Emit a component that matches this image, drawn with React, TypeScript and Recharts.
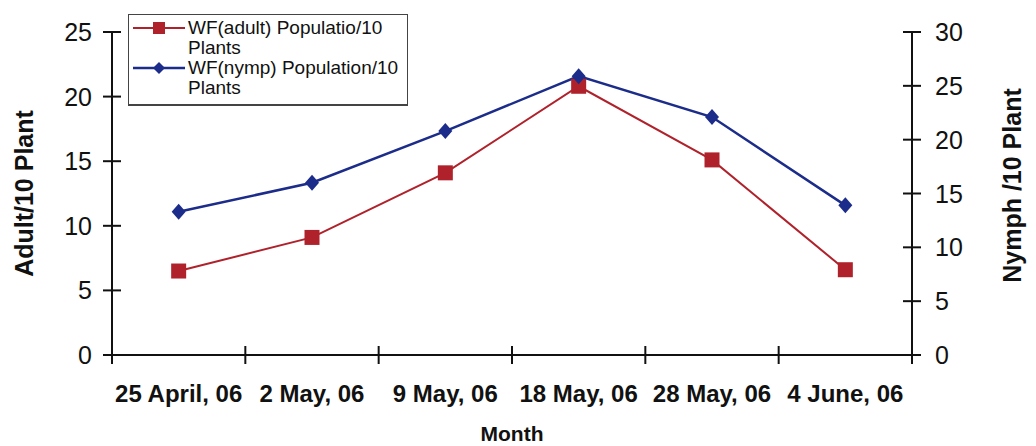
import React from 'react';
import { LineChart, Line, XAxis, YAxis, Legend, Label } from 'recharts';

const months = ['25 April, 06', '2 May, 06', '9 May, 06', '18 May, 06', '28 May, 06', '4 June, 06'];
const adult = [6.5, 9.1, 14.1, 20.8, 15.1, 6.6];
const nymph = [13.3, 16.0, 20.8, 25.9, 22.1, 13.9];
const leftTicks = [0, 5, 10, 15, 20, 25];
const rightTicks = [0, 5, 10, 15, 20, 25, 30];
const adultName = 'WF(adult) Populatio/10 Plants';
const nymphName = 'WF(nymp) Population/10 Plants';
const leftTitle = 'Adult/10 Plant';
const rightTitle = 'Nymph /10 Plant';
const xTitle = 'Month';

const data = months.map((m, i) => ({ month: m, adult: adult[i], nymph: nymph[i] }));

const W = 1036;
const H = 446;
const LEFT_W = 112;
const RIGHT_W = 124;
const TOP = 32;
const BOTTOM_H = 91;
const PLOT_W = W - LEFT_W - RIGHT_W;
const FONT = '"Liberation Sans", Arial, sans-serif';
const RED = '#B0222B';
const BLUE = '#1B2C8A';
const INK = '#111';
const TICK = 9;

const XTick = (props: any) => {
  const { x, y, payload, index, visibleTicksCount } = props;
  const count = visibleTicksCount || months.length;
  const bw = PLOT_W / count;
  return (
    <g>
      <line x1={x - bw / 2} x2={x - bw / 2} y1={y - TICK} y2={y + TICK} stroke={INK} strokeWidth={2} />
      {index === count - 1 && (
        <line x1={x + bw / 2} x2={x + bw / 2} y1={y - TICK} y2={y + TICK} stroke={INK} strokeWidth={2} />
      )}
      <text x={x} y={y + 47} textAnchor="middle" fontFamily={FONT} fontSize={24} fontWeight="bold" fill={INK}>
        {payload.value}
      </text>
    </g>
  );
};

const LeftTick = (props: any) => {
  const { x, y, payload } = props;
  return (
    <g>
      <line x1={x - TICK} x2={x + TICK} y1={y} y2={y} stroke={INK} strokeWidth={2} />
      <text x={x - 20} y={y} dy="0.36em" textAnchor="end" fontFamily={FONT} fontSize={25} fill={INK}>
        {payload.value}
      </text>
    </g>
  );
};

const RightTick = (props: any) => {
  const { x, y, payload } = props;
  return (
    <g>
      <line x1={x - TICK} x2={x + TICK} y1={y} y2={y} stroke={INK} strokeWidth={2} />
      <text x={x + 23} y={y} dy="0.36em" textAnchor="start" fontFamily={FONT} fontSize={25} fill={INK}>
        {payload.value}
      </text>
    </g>
  );
};

const LeftTitle = (props: any) => {
  const vb = props.viewBox;
  const cx = vb.x + 24;
  const cy = vb.y + vb.height / 2;
  return (
    <text x={cx} y={cy} dy="0.36em" textAnchor="middle" transform={`rotate(-90, ${cx}, ${cy})`} fontFamily={FONT} fontSize={25} fontWeight="bold" fill={INK}>
      {leftTitle}
    </text>
  );
};

const RightTitle = (props: any) => {
  const vb = props.viewBox;
  const cx = vb.x + vb.width - 24;
  const cy = vb.y + vb.height / 2 - 8;
  return (
    <text x={cx} y={cy} dy="0.36em" textAnchor="middle" transform={`rotate(-90, ${cx}, ${cy})`} fontFamily={FONT} fontSize={25} fontWeight="bold" fill={INK}>
      {rightTitle}
    </text>
  );
};

const BottomTitle = (props: any) => {
  const vb = props.viewBox;
  return (
    <text x={vb.x + vb.width / 2} y={vb.y + 86} textAnchor="middle" fontFamily={FONT} fontSize={21} fontWeight="bold" fill={INK}>
      {xTitle}
    </text>
  );
};

const Square = (p: any) => (
  <rect key={`sq-${p.index}`} x={p.cx - 7.5} y={p.cy - 7.5} width={15} height={15} fill={RED} />
);

const Diamond = (p: any) => (
  <path
    key={`dm-${p.index}`}
    d={`M${p.cx},${p.cy - 8} L${p.cx + 7},${p.cy} L${p.cx},${p.cy + 8} L${p.cx - 7},${p.cy} Z`}
    fill={BLUE}
  />
);

const LegendBox = (props: any) => {
  const items = props.payload || [];
  return (
    <div
      style={{
        width: 280,
        height: 92,
        boxSizing: 'border-box',
        border: '1px solid #444',
        borderBottomWidth: 2,
        background: '#fff',
        paddingTop: 3,
        fontFamily: FONT,
        fontSize: 19,
        lineHeight: '20px',
        color: INK,
        textAlign: 'left',
      }}
    >
      {items.map((it: any) => {
        const isAdult = it.dataKey === 'adult';
        const col = isAdult ? RED : BLUE;
        return (
          <div key={it.value} style={{ display: 'flex', alignItems: 'flex-start' }}>
            <svg width={59} height={20} style={{ flex: 'none', display: 'block' }}>
              <line x1={4} x2={56} y1={10} y2={10} stroke={col} strokeWidth={isAdult ? 2 : 2.5} />
              {isAdult ? (
                <rect x={24} y={4} width={12} height={12} fill={col} />
              ) : (
                <path d="M30,4 L36,10 L30,16 L24,10 Z" fill={col} />
              )}
            </svg>
            <div style={{ width: 218 }}>{it.value}</div>
          </div>
        );
      })}
    </div>
  );
};

export default function App() {
  return (
    <div style={{ position: 'absolute', left: 0, top: 0, width: W, height: H, background: '#fff' }}>
      <LineChart width={W} height={H} data={data} margin={{ top: TOP, right: 0, bottom: 0, left: 0 }}>
        <XAxis
          dataKey="month"
          scale="band"
          height={BOTTOM_H}
          interval={0}
          tickLine={false}
          tickSize={0}
          tickMargin={0}
          tick={XTick}
          axisLine={{ stroke: INK, strokeWidth: 2 }}
        >
          <Label content={BottomTitle} />
        </XAxis>
        <YAxis
          yAxisId="left"
          orientation="left"
          width={LEFT_W}
          domain={[0, 25]}
          ticks={leftTicks}
          interval={0}
          tickLine={false}
          tickSize={0}
          tickMargin={0}
          tick={LeftTick}
          axisLine={{ stroke: INK, strokeWidth: 2 }}
        >
          <Label content={LeftTitle} />
        </YAxis>
        <YAxis
          yAxisId="right"
          orientation="right"
          width={RIGHT_W}
          domain={[0, 30]}
          ticks={rightTicks}
          interval={0}
          tickLine={false}
          tickSize={0}
          tickMargin={0}
          tick={RightTick}
          axisLine={{ stroke: INK, strokeWidth: 2 }}
        >
          <Label content={RightTitle} />
        </YAxis>
        <Legend
          layout="horizontal"
          verticalAlign="middle"
          align="center"
          content={LegendBox}
          wrapperStyle={{ left: 128, top: 14, width: 280, height: 92 }}
        />
        <Line
          yAxisId="left"
          dataKey="adult"
          name={adultName}
          stroke={RED}
          strokeWidth={2}
          dot={Square}
          activeDot={false}
          isAnimationActive={false}
        />
        <Line
          yAxisId="right"
          dataKey="nymph"
          name={nymphName}
          stroke={BLUE}
          strokeWidth={2.5}
          dot={Diamond}
          activeDot={false}
          isAnimationActive={false}
        />
      </LineChart>
    </div>
  );
}
